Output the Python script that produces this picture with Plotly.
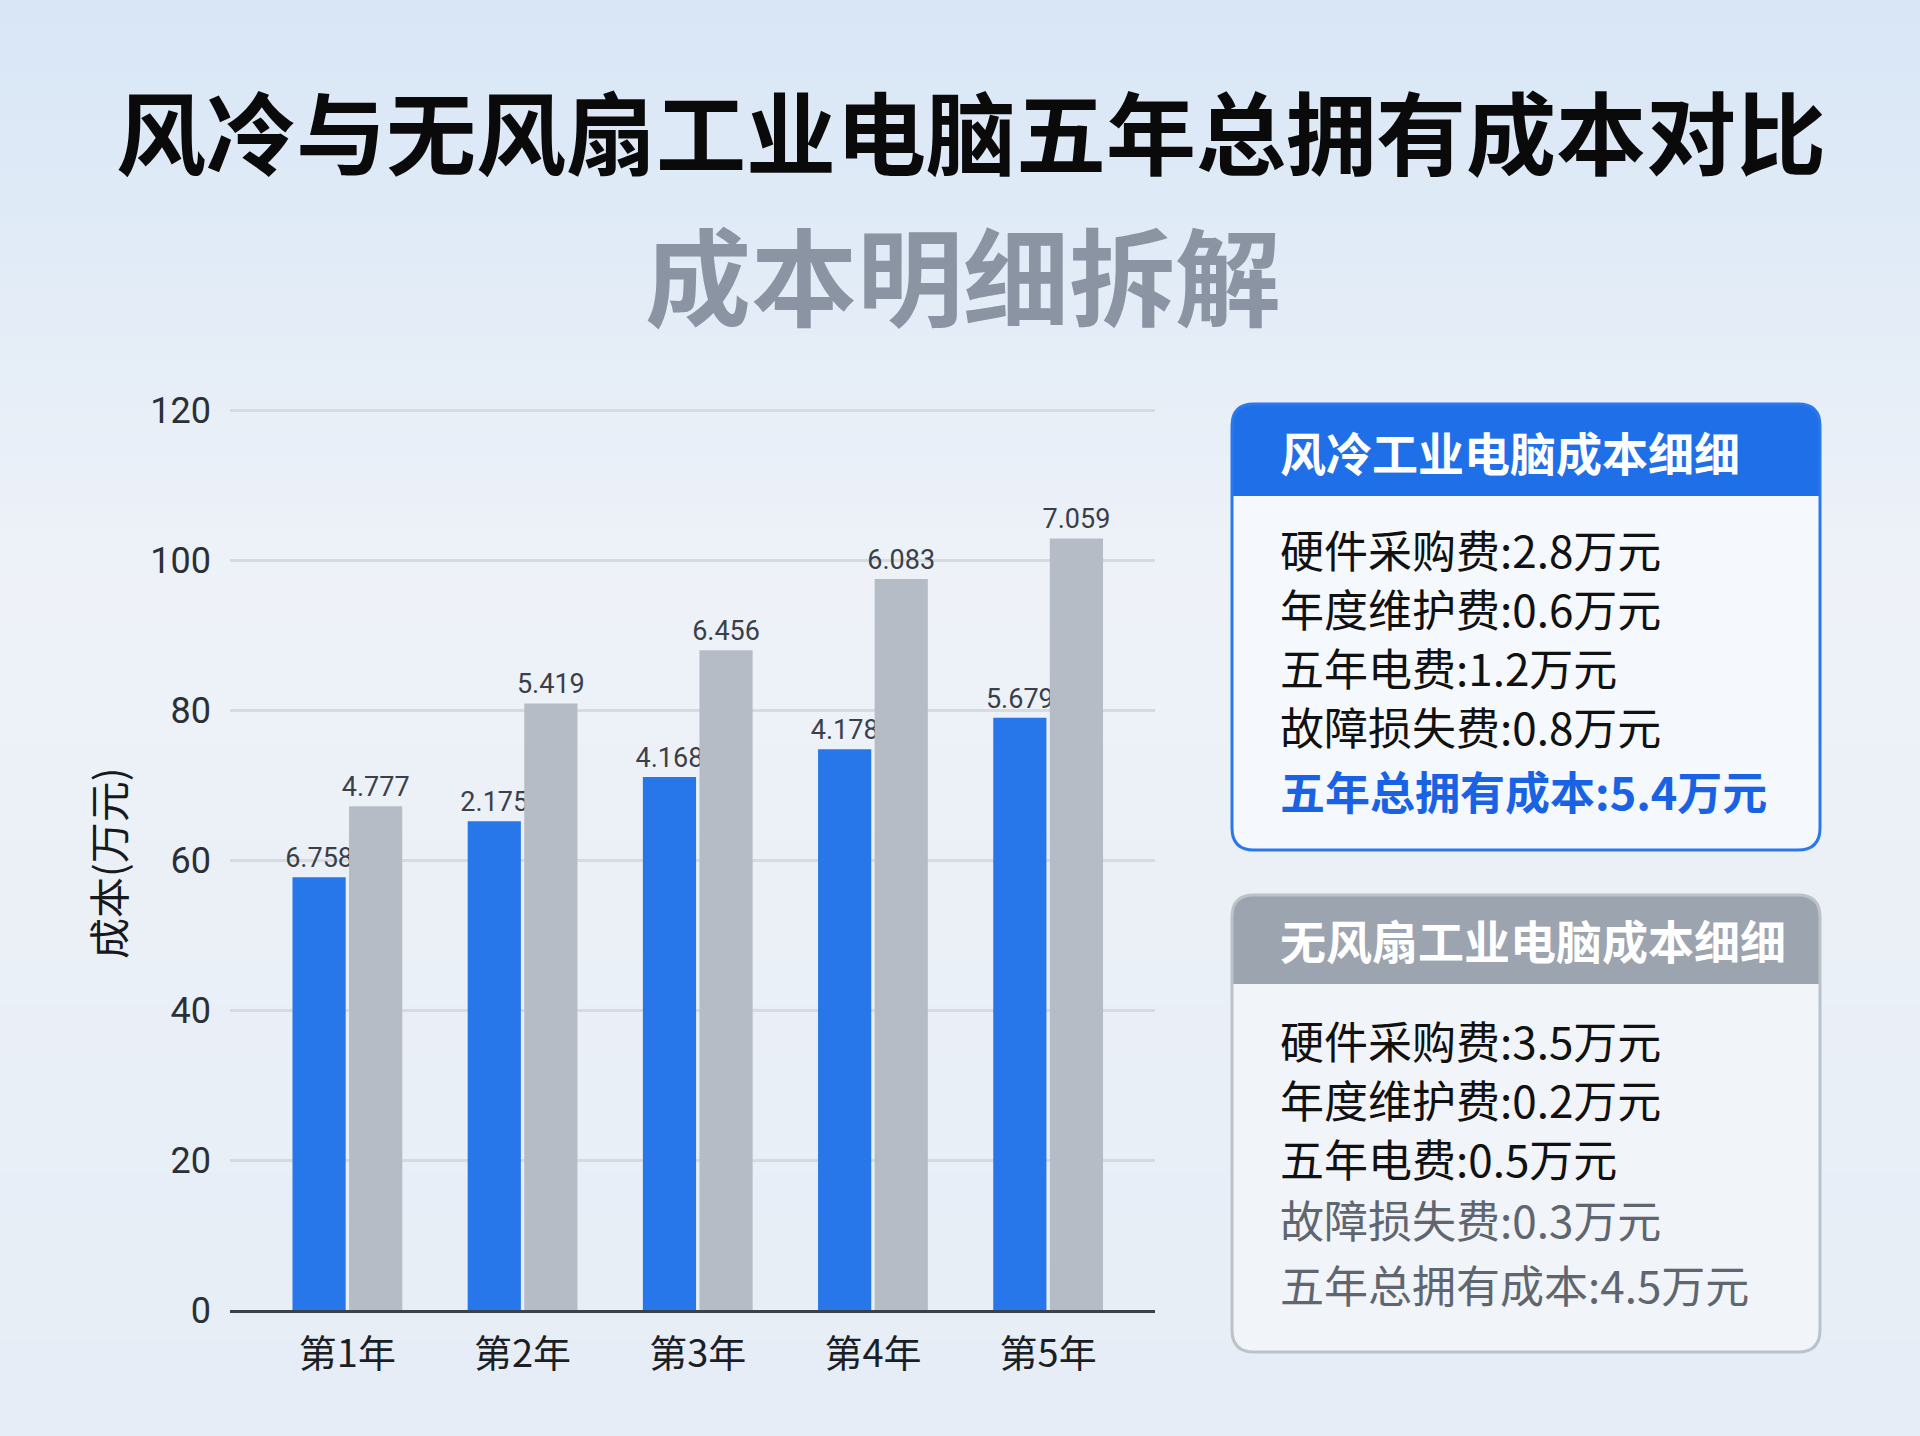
import plotly.graph_objects as go

# ---------------- data ----------------
years = ["第1年", "第2年", "第3年", "第4年", "第5年"]
air_cooled = [57.7, 65.2, 71.1, 74.8, 79.0]
fanless = [67.2, 80.9, 88.0, 97.5, 102.9]
air_labels = ["6.758", "2.175", "4.168", "4.178", "5.679"]
fanless_labels = ["4.777", "5.419", "6.456", "6.083", "7.059"]
y_ticks = [0, 20, 40, 60, 80, 100, 120]

title_main = "风冷与无风扇工业电脑五年总拥有成本对比"
title_sub = "成本明细拆解"
y_title = "成本(万元)"

air_title = "风冷工业电脑成本细细"
air_items = ["硬件采购费:2.8万元", "年度维护费:0.6万元", "五年电费:1.2万元", "故障损失费:0.8万元"]
air_total = "五年总拥有成本:5.4万元"
fan_title = "无风扇工业电脑成本细细"
fan_items = ["硬件采购费:3.5万元", "年度维护费:0.2万元", "五年电费:0.5万元"]
fan_muted = ["故障损失费:0.3万元", "五年总拥有成本:4.5万元"]

# ---------------- style ----------------
W, H = 1920, 1436
BLUE = "#2776ea"
GRAY = "#b5bcc6"
CJK = "Noto Sans CJK SC"
NUM = "Roboto, Noto Sans CJK SC"


def px(x):
    return x / W


def py(y):
    return 1 - y / H


def rrect(x0, y0, x1, y1, r, top=True, bottom=True):
    """rounded rectangle path in paper coords (input in pixels, top-left origin)"""
    rt = r if top else 0
    rb = r if bottom else 0
    pts = []
    pts.append(f"M {px(x0 + rt)},{py(y0)}")
    pts.append(f"L {px(x1 - rt)},{py(y0)}")
    pts.append(f"Q {px(x1)},{py(y0)} {px(x1)},{py(y0 + rt)}")
    pts.append(f"L {px(x1)},{py(y1 - rb)}")
    pts.append(f"Q {px(x1)},{py(y1)} {px(x1 - rb)},{py(y1)}")
    pts.append(f"L {px(x0 + rb)},{py(y1)}")
    pts.append(f"Q {px(x0)},{py(y1)} {px(x0)},{py(y1 - rb)}")
    pts.append(f"L {px(x0)},{py(y0 + rt)}")
    pts.append(f"Q {px(x0)},{py(y0)} {px(x0 + rt)},{py(y0)}")
    pts.append("Z")
    return " ".join(pts)


fig = go.Figure()
fig.add_trace(go.Bar(
    x=years, y=air_cooled, name="风冷", marker=dict(color=BLUE, line=dict(width=0)),
    text=air_labels, textposition="outside", cliponaxis=False,
    textfont=dict(family=NUM, size=27, color="#3a404a"), constraintext="none",
))
fig.add_trace(go.Bar(
    x=years, y=fanless, name="无风扇", marker=dict(color=GRAY, line=dict(width=0)),
    text=fanless_labels, textposition="outside", cliponaxis=False,
    textfont=dict(family=NUM, size=27, color="#3a404a"), constraintext="none",
))

shapes = []


def mix(c1, c2, t):
    a = [int(c1[i:i + 2], 16) for i in (1, 3, 5)]
    b = [int(c2[i:i + 2], 16) for i in (1, 3, 5)]
    return "#" + "".join(f"{round(a[k] + (b[k] - a[k]) * t):02x}" for k in range(3))


# background gradient bands
n = 60
for i in range(n):
    t = i / (n - 1)
    if t < 0.4:
        c = mix("#d8e6f6", "#eef2f8", t / 0.4)
    else:
        c = mix("#eef2f8", "#e6edf6", (t - 0.4) / 0.6)
    shapes.append(dict(type="rect", xref="paper", yref="paper", x0=0, x1=1,
                       y0=max(0, 1 - (i + 1) / n - 0.002), y1=1 - i / n,
                       fillcolor=c, line=dict(width=0), layer="below"))

# panel 1 (air cooled)
shapes.append(dict(type="path", xref="paper", yref="paper", path=rrect(1232, 404, 1820, 850, 22),
                   fillcolor="#f5f8fc", line=dict(width=0), layer="below"))
shapes.append(dict(type="path", xref="paper", yref="paper", path=rrect(1232, 404, 1820, 496, 22, bottom=False),
                   fillcolor="#1f6fe8", line=dict(width=0), layer="below"))
shapes.append(dict(type="path", xref="paper", yref="paper", path=rrect(1232, 404, 1820, 850, 22),
                   fillcolor="rgba(0,0,0,0)", line=dict(width=3, color="#2a78ec"), layer="above"))
# panel 2 (fanless)
shapes.append(dict(type="path", xref="paper", yref="paper", path=rrect(1232, 895, 1820, 1352, 22),
                   fillcolor="#f1f4f8", line=dict(width=0), layer="below"))
shapes.append(dict(type="path", xref="paper", yref="paper", path=rrect(1232, 895, 1820, 984, 22, bottom=False),
                   fillcolor="#9ca4af", line=dict(width=0), layer="below"))
shapes.append(dict(type="path", xref="paper", yref="paper", path=rrect(1232, 895, 1820, 1352, 22),
                   fillcolor="rgba(0,0,0,0)", line=dict(width=3, color="#bcc2ca"), layer="above"))

ann = []
ann.append(dict(text=f"<b>{title_main}</b>", x=px(971), y=py(129), xref="paper", yref="paper",
                showarrow=False, xanchor="center", yanchor="middle",
                font=dict(family=CJK, size=90, color="#0a0a0a", weight=900)))
ann.append(dict(text=f"<b>{title_sub}</b>", x=px(963), y=py(272), xref="paper", yref="paper",
                showarrow=False, xanchor="center", yanchor="middle",
                font=dict(family=CJK, size=106, color="#8a94a2", weight=900)))
ann.append(dict(text=y_title, x=px(107), y=py(863), xref="paper", yref="paper", textangle=-90,
                showarrow=False, xanchor="center", yanchor="middle",
                font=dict(family=CJK, size=41, color="#16191e")))

TX = px(1278)
ann.append(dict(text=f"<b>{air_title}</b>", x=TX, y=py(451), xref="paper", yref="paper",
                showarrow=False, xanchor="left", yanchor="middle",
                font=dict(family=CJK, size=46, color="#ffffff")))
for i, s in enumerate(air_items):
    ann.append(dict(text=s, x=TX, y=py(549 + 59 * i), xref="paper", yref="paper",
                    showarrow=False, xanchor="left", yanchor="middle",
                    font=dict(family=CJK, size=44, color="#111111")))
ann.append(dict(text=f"<b>{air_total}</b>", x=TX, y=py(790), xref="paper", yref="paper",
                showarrow=False, xanchor="left", yanchor="middle",
                font=dict(family=CJK, size=45, color="#1a62e4")))

ann.append(dict(text=f"<b>{fan_title}</b>", x=TX, y=py(939), xref="paper", yref="paper",
                showarrow=False, xanchor="left", yanchor="middle",
                font=dict(family=CJK, size=46, color="#ffffff")))
fan_y = [1040, 1099, 1158, 1219, 1284]
for i, s in enumerate(fan_items):
    ann.append(dict(text=s, x=TX, y=py(fan_y[i]), xref="paper", yref="paper",
                    showarrow=False, xanchor="left", yanchor="middle",
                    font=dict(family=CJK, size=44, color="#111111")))
for j, s in enumerate(fan_muted):
    ann.append(dict(text=s, x=TX, y=py(fan_y[len(fan_items) + j]), xref="paper", yref="paper",
                    showarrow=False, xanchor="left", yanchor="middle",
                    font=dict(family=CJK, size=44, color="#5f6670")))

fig.update_layout(
    width=W, height=H,
    margin=dict(l=0, r=0, t=0, b=0, pad=0, autoexpand=False),
    paper_bgcolor="#ecf1f7",
    plot_bgcolor="rgba(0,0,0,0)",
    showlegend=False,
    barmode="group", bargap=0.354, bargroupgap=0.06,
    shapes=shapes, annotations=ann,
    xaxis=dict(domain=[px(230), px(1155)], range=[-0.67, 4.61], showgrid=False,
               showline=True, linecolor="#39414d", linewidth=3, ticks="",
               tickfont=dict(family=CJK, size=38, color="#1b1f25"), ticklabelstandoff=8,
               zeroline=False, automargin=False),
    yaxis=dict(domain=[py(1310), py(405)], range=[0, 120.7], tickvals=y_ticks,
               showgrid=True, gridcolor="#d6dbe2", gridwidth=3, zeroline=False,
               showline=False, ticks="", automargin=False,
               tickfont=dict(family=NUM, size=36, color="#2b2f36"), ticklabelstandoff=18),
    font=dict(family=CJK),
)

fig.write_html("out.html")
